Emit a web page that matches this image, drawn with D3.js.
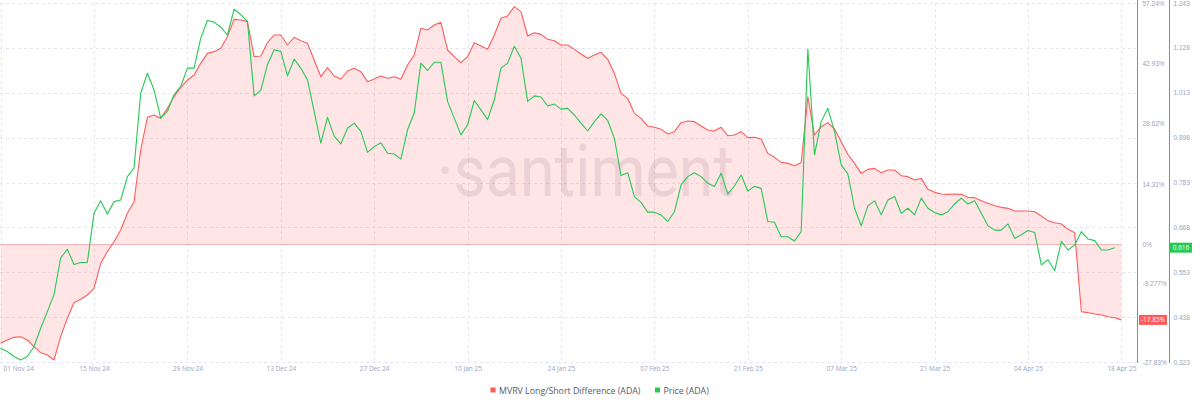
<!DOCTYPE html>
<html>
<head>
<meta charset="utf-8">
<script src="https://cdn.jsdelivr.net/npm/d3@7"></script>
<style>
  html, body { margin: 0; padding: 0; background: #fff; }
  svg { display: block; font-family: "Open Sans", "Noto Sans", sans-serif; }
</style>
</head>
<body>
<div id="chart"></div>
<script>
// ---------------- DATA ----------------
const startDate = "2024-11-01";   // first daily observation
const mvrvName = "MVRV Long/Short Difference (ADA)";
const priceName = "Price (ADA)";

// MVRV Long/Short Difference (%) , daily from 01 Nov 2024 to 18 Apr 2025
const mvrv = [
  -23.41, -22.62, -21.99, -21.83, -22.62, -24.20, -25.62, -26.17, -27.36, -21.83,
  -17.48, -13.77, -12.98, -11.96, -10.38, -4.45, -1.69, 0.68, 3.45, 7.40,
  10.16, 22.40, 30.15, 30.70, 29.91, 32.28, 35.04, 37.25, 38.99, 40.18,
  42.94, 45.31, 45.71, 46.50, 49.26, 53.37, 53.21, 52.82, 44.52, 44.68,
  47.84, 49.66, 49.66, 47.29, 49.10, 48.31, 47.68, 43.73, 39.78, 41.92,
  39.94, 39.23, 41.13, 41.76, 40.97, 38.60, 39.23, 39.94, 39.39, 39.78,
  39.15, 42.55, 44.92, 51.24, 50.84, 52.03, 52.66, 46.10, 44.52, 43.10,
  44.52, 47.84, 47.05, 46.26, 49.66, 53.61, 54.16, 56.37, 55.19, 49.42,
  50.21, 49.81, 48.63, 48.31, 47.29, 47.29, 46.26, 45.15, 44.13, 44.92,
  45.55, 43.89, 40.57, 35.83, 34.65, 31.09, 29.91, 28.09, 27.78, 27.30,
  26.20, 26.75, 28.88, 29.28, 29.12, 28.09, 27.14, 26.91, 27.78, 25.80,
  25.96, 26.75, 25.33, 25.41, 25.01, 21.61, 20.67, 19.48, 19.24, 18.69,
  19.40, 35.04, 25.96, 27.93, 28.88, 27.38, 24.38, 21.40, 19.24, 16.88,
  17.82, 18.06, 17.03, 17.67, 17.67, 16.32, 16.09, 15.30, 15.69, 13.08,
  12.37, 11.98, 11.90, 11.98, 11.90, 11.19, 11.11, 10.40, 9.77, 9.21,
  8.82, 8.58, 7.95, 7.95, 7.95, 7.79, 6.76, 5.66, 5.18, 4.87,
  3.60, 2.81, -15.91, -16.14, -16.46, -16.70, -17.09, -17.33, -17.85
];

// ADA price (USD), daily from 01 Nov 2024 to 17 Apr 2025
const price = [
  0.358, 0.350, 0.337, 0.328, 0.337, 0.362, 0.409, 0.452, 0.495, 0.589,
  0.612, 0.573, 0.578, 0.578, 0.704, 0.736, 0.702, 0.734, 0.738, 0.798,
  0.820, 1.012, 1.063, 1.020, 0.948, 0.965, 1.008, 1.029, 1.076, 1.076,
  1.153, 1.198, 1.194, 1.181, 1.161, 1.227, 1.213, 1.196, 1.005, 1.019,
  1.085, 1.123, 1.119, 1.056, 1.099, 1.076, 1.046, 0.965, 0.884, 0.950,
  0.902, 0.882, 0.922, 0.935, 0.914, 0.860, 0.875, 0.885, 0.858, 0.856,
  0.843, 0.918, 0.961, 1.089, 1.070, 1.091, 1.091, 0.991, 0.948, 0.905,
  0.931, 0.993, 0.969, 0.944, 0.995, 1.076, 1.089, 1.132, 1.102, 0.991,
  1.005, 1.002, 0.979, 0.984, 0.971, 0.973, 0.956, 0.935, 0.915, 0.939,
  0.959, 0.942, 0.896, 0.801, 0.808, 0.747, 0.732, 0.707, 0.707, 0.700,
  0.683, 0.708, 0.777, 0.798, 0.808, 0.798, 0.781, 0.773, 0.807, 0.753,
  0.774, 0.802, 0.761, 0.773, 0.768, 0.683, 0.681, 0.644, 0.644, 0.633,
  0.657, 1.125, 0.854, 0.939, 0.973, 0.914, 0.828, 0.805, 0.717, 0.672,
  0.723, 0.736, 0.700, 0.738, 0.747, 0.704, 0.717, 0.700, 0.743, 0.717,
  0.706, 0.700, 0.708, 0.728, 0.743, 0.728, 0.736, 0.704, 0.672, 0.661,
  0.661, 0.677, 0.640, 0.649, 0.660, 0.655, 0.572, 0.585, 0.557, 0.632,
  0.610, 0.623, 0.657, 0.638, 0.634, 0.610, 0.610, 0.616
];

// axis ticks
const xTickDates = ["2024-11-01", "2024-11-15", "2024-11-29", "2024-12-13", "2024-12-27",
  "2025-01-10", "2025-01-24", "2025-02-07", "2025-02-21", "2025-03-07", "2025-03-21",
  "2025-04-04", "2025-04-18"];
const mvrvTicks = [57.24, 42.93, 28.62, 14.31, 0, -9.277, -27.83];
const mvrvTickLabels = ["57.24%", "42.93%", "28.62%", "14.31%", "0%", "-9.277%", "-27.83%"];
const mvrvDomain = [-27.83, 57.24];
const priceTicks = [1.243, 1.128, 1.013, 0.898, 0.783, 0.668, 0.553, 0.438, 0.323];
const priceDomain = [0.323, 1.243];
const lastMvrvLabel = "-17.85%";
const lastPriceLabel = "0.616";

// ---------------- CHART ----------------
const W = 1200, H = 406;
const RED = "#ff5b5b", GREEN = "#26c953";
const parse = d3.utcParse("%Y-%m-%d");
const t0 = parse(startDate);
const dayOf = i => d3.utcDay.offset(t0, i);

const mvrvData = mvrv.map((v, i) => ({ date: dayOf(i), v }));
const priceData = price.map((v, i) => ({ date: dayOf(i), v }));

const x = d3.scaleUtc()
  .domain([t0, parse("2025-04-18")])
  .range([0.6, 1121.4]);
const yR = d3.scaleLinear().domain(mvrvDomain).range([362, 3]);
const yG = d3.scaleLinear().domain(priceDomain).range([362, 3]);

const svg = d3.select("#chart").append("svg")
  .attr("width", W).attr("height", H);

// grid
const grid = svg.append("g").attr("class", "grid");
grid.selectAll("line.h").data(priceTicks).join("line")
  .attr("x1", 0).attr("x2", 1136)
  .attr("y1", d => Math.round(yG(d)) + 0.5).attr("y2", d => Math.round(yG(d)) + 0.5)
  .attr("stroke", "#e3e6ee").attr("stroke-dasharray", "3,3").attr("stroke-width", 1);
grid.selectAll("line.v").data(xTickDates.map(parse)).join("line")
  .attr("y1", 3).attr("y2", 362)
  .attr("x1", d => Math.round(x(d)) + 0.5).attr("x2", d => Math.round(x(d)) + 0.5)
  .attr("stroke", "#e3e6ee").attr("stroke-dasharray", "3,3").attr("stroke-width", 1);

// watermark
svg.append("text")
  .attr("x", 437).attr("y", 196)
  .attr("font-family", "Roboto, 'Open Sans', sans-serif")
  .attr("font-weight", 400)
  .attr("font-size", 72)
  .attr("textLength", 297).attr("lengthAdjust", "spacingAndGlyphs")
  .attr("fill", "#6f5f84").attr("fill-opacity", 0.15)
  .text("·santiment");

// MVRV area
const area = d3.area()
  .x(d => x(d.date))
  .y0(yR(0))
  .y1(d => yR(d.v));
svg.append("path").datum(mvrvData)
  .attr("d", area)
  .attr("fill", RED).attr("fill-opacity", 0.16);

// zero line
svg.append("line")
  .attr("x1", 0).attr("x2", x(mvrvData[mvrvData.length - 1].date))
  .attr("y1", yR(0)).attr("y2", yR(0))
  .attr("stroke", "#f5b3b8").attr("stroke-width", 1);

// lines
const line = y => d3.line().x(d => x(d.date)).y(d => y(d.v));
svg.append("path").datum(mvrvData)
  .attr("d", line(yR))
  .attr("fill", "none").attr("stroke", RED).attr("stroke-width", 1.1)
  .attr("stroke-linejoin", "round");
svg.append("path").datum(priceData)
  .attr("d", line(yG))
  .attr("fill", "none").attr("stroke", GREEN).attr("stroke-width", 1.1)
  .attr("stroke-linejoin", "round");

// x axis
const fmt = d3.utcFormat("%d %b %y");
const xAxis = svg.append("g")
  .attr("transform", "translate(0,362)")
  .call(d3.axisBottom(x).tickValues(xTickDates.map(parse)).tickFormat(fmt).tickSize(0).tickPadding(4));
xAxis.select(".domain").remove();
xAxis.selectAll("text")
  .attr("fill", "#9aa4bd").attr("font-size", 6.5)
  .attr("font-family", "'Open Sans', sans-serif");
xAxis.selectAll(".tick").filter((d, i) => i === 0).select("text")
  .attr("text-anchor", "start").attr("x", 2.5);

// right axis: MVRV
const rAxis = svg.append("g")
  .attr("transform", "translate(1137.5,0)")
  .call(d3.axisRight(yR).tickValues(mvrvTicks)
    .tickFormat((d, i) => mvrvTickLabels[i]).tickSize(0).tickPadding(5));
rAxis.select(".domain").attr("stroke", RED).attr("d", "M0,0V363");
rAxis.selectAll("text").attr("fill", "#9aa4bd").attr("font-size", 6.5);

// right axis: price
const gAxis = svg.append("g")
  .attr("transform", "translate(1169.5,0)")
  .call(d3.axisRight(yG).tickValues(priceTicks).tickSize(0).tickPadding(4)
    .tickFormat(d3.format(".3f")));
gAxis.select(".domain").attr("stroke", GREEN).attr("d", "M0,0V363");
gAxis.selectAll("text").attr("fill", "#9aa4bd").attr("font-size", 6.5);

// last-value badges
const lastM = mvrvData[mvrvData.length - 1].v;
const lastP = priceData[priceData.length - 1].v;
const badge = (gx, gy, w, color, label) => {
  svg.append("rect").attr("x", gx).attr("y", gy - 5).attr("width", w).attr("height", 10)
    .attr("fill", color);
  svg.append("text").attr("x", gx + w / 2).attr("y", gy).attr("dy", "0.35em")
    .attr("text-anchor", "middle").attr("fill", "#fff").attr("font-size", 6.5)
    .text(label);
};
badge(1139, yR(lastM), 28, RED, lastMvrvLabel);
badge(1170, yG(lastP), 22, GREEN, lastPriceLabel);

// legend
const legend = svg.append("g").attr("font-size", 8.8).attr("fill", "#555b66");
const items = [{ name: mvrvName, color: RED, x: 490.5 }, { name: priceName, color: GREEN, x: 655 }];
items.forEach(it => {
  legend.append("rect").attr("x", it.x).attr("y", 387.5).attr("width", 5).attr("height", 5)
    .attr("fill", it.color);
  legend.append("text").attr("x", it.x + 8.5).attr("y", 390.5).attr("dy", "0.35em")
    .text(it.name);
});
</script>
</body>
</html>
